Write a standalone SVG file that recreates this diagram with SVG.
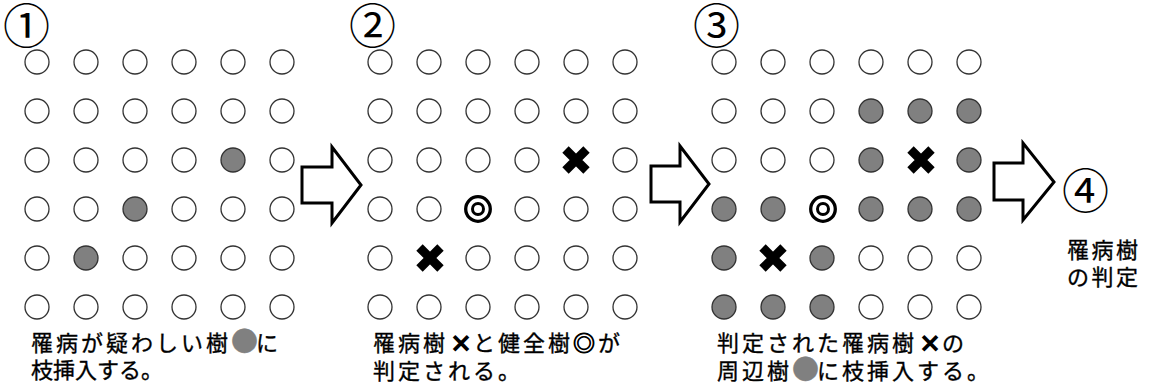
<svg xmlns="http://www.w3.org/2000/svg" xmlns:xlink="http://www.w3.org/1999/xlink" width="1151" height="385" viewBox="0 0 1151 385">
<style>
.o{fill:#fff;stroke:#333;stroke-width:1.3}
.f{fill:#808080;stroke:#333;stroke-width:1.3}
.x{stroke:#000;stroke-width:9;fill:none;stroke-linecap:butt}
.dc{fill:none;stroke:#000}
.arr{fill:#fff;stroke:#000;stroke-width:3;stroke-linejoin:miter}
.num{font-family:"Noto Sans CJK JP","Noto Sans CJK SC",sans-serif;font-size:47px;fill:#000}
.lab{font-family:"Noto Sans CJK JP","Noto Sans CJK SC",sans-serif;font-size:22px;fill:#000;stroke:#000;stroke-width:0.35}
.g{fill:#808080;stroke:#808080;font-size:27px}
.b{font-weight:bold;stroke-width:1.4}
.dm{stroke-width:0.9}
</style>
<defs>
<circle id="o" class="o" r="12"/>
<circle id="f" class="f" r="12"/>
<path id="x" class="x" d="M-10.5,-10.5L10.5,10.5M10.5,-10.5L-10.5,10.5"/>
<g id="dc"><circle class="dc" r="12.3" stroke-width="3.3"/><circle class="dc" r="5.5" stroke-width="3"/></g>
</defs>
<rect width="1151" height="385" fill="#fff"/>

<g id="panel1">
<text class="num" x="3" y="43">①</text>
<g id="grid1">
<use href="#o" x="37" y="62"/><use href="#o" x="86" y="62"/><use href="#o" x="135" y="62"/><use href="#o" x="184" y="62"/><use href="#o" x="233" y="62"/><use href="#o" x="282" y="62"/>
<use href="#o" x="37" y="111"/><use href="#o" x="86" y="111"/><use href="#o" x="135" y="111"/><use href="#o" x="184" y="111"/><use href="#o" x="233" y="111"/><use href="#o" x="282" y="111"/>
<use href="#o" x="37" y="160"/><use href="#o" x="86" y="160"/><use href="#o" x="135" y="160"/><use href="#o" x="184" y="160"/><use href="#f" x="233" y="160"/><use href="#o" x="282" y="160"/>
<use href="#o" x="37" y="209"/><use href="#o" x="86" y="209"/><use href="#f" x="135" y="209"/><use href="#o" x="184" y="209"/><use href="#o" x="233" y="209"/><use href="#o" x="282" y="209"/>
<use href="#o" x="37" y="258"/><use href="#f" x="86" y="258"/><use href="#o" x="135" y="258"/><use href="#o" x="184" y="258"/><use href="#o" x="233" y="258"/><use href="#o" x="282" y="258"/>
<use href="#o" x="37" y="307"/><use href="#o" x="86" y="307"/><use href="#o" x="135" y="307"/><use href="#o" x="184" y="307"/><use href="#o" x="233" y="307"/><use href="#o" x="282" y="307"/>
</g>
<text class="lab" x="31" y="351"><tspan x="31 56 81 106 131 156 181 206 231 256" y="351">罹病が疑わしい樹<tspan class="g">●</tspan>に</tspan></text>
<text class="lab" x="31" y="378">枝挿入する。</text>
</g>

<g id="panel2">
<text class="num" x="349" y="43">②</text>
<g id="grid2">
<use href="#o" x="380" y="62"/><use href="#o" x="429" y="62"/><use href="#o" x="478" y="62"/><use href="#o" x="527" y="62"/><use href="#o" x="576" y="62"/><use href="#o" x="625" y="62"/>
<use href="#o" x="380" y="111"/><use href="#o" x="429" y="111"/><use href="#o" x="478" y="111"/><use href="#o" x="527" y="111"/><use href="#o" x="576" y="111"/><use href="#o" x="625" y="111"/>
<use href="#o" x="380" y="160"/><use href="#o" x="429" y="160"/><use href="#o" x="478" y="160"/><use href="#o" x="527" y="160"/><use href="#x" x="576" y="160"/><use href="#o" x="625" y="160"/>
<use href="#o" x="380" y="209"/><use href="#o" x="429" y="209"/><use href="#dc" x="478" y="209"/><use href="#o" x="527" y="209"/><use href="#o" x="576" y="209"/><use href="#o" x="625" y="209"/>
<use href="#o" x="380" y="258"/><use href="#x" x="430" y="258"/><use href="#o" x="478" y="258"/><use href="#o" x="527" y="258"/><use href="#o" x="576" y="258"/><use href="#o" x="625" y="258"/>
<use href="#o" x="380" y="307"/><use href="#o" x="429" y="307"/><use href="#o" x="478" y="307"/><use href="#o" x="527" y="307"/><use href="#o" x="576" y="307"/><use href="#o" x="625" y="307"/>
</g>
<text class="lab" x="373" y="351"><tspan x="373 398 423 450 473 498 523 548 573 598" y="351">罹病樹<tspan class="b">×</tspan>と健全樹<tspan class="dm">◎</tspan>が</tspan></text>
<text class="lab" x="373" y="379"><tspan x="373 398 423 448 473 498" y="379">判定される。</tspan></text>
</g>

<g id="panel3">
<text class="num" x="693" y="43">③</text>
<g id="grid3">
<use href="#o" x="724" y="62"/><use href="#o" x="773" y="62"/><use href="#o" x="822" y="62"/><use href="#o" x="871" y="62"/><use href="#o" x="920" y="62"/><use href="#o" x="969" y="62"/>
<use href="#o" x="724" y="111"/><use href="#o" x="773" y="111"/><use href="#o" x="822" y="111"/><use href="#f" x="871" y="111"/><use href="#f" x="920" y="111"/><use href="#f" x="969" y="111"/>
<use href="#o" x="724" y="160"/><use href="#o" x="773" y="160"/><use href="#o" x="822" y="160"/><use href="#f" x="871" y="160"/><use href="#x" x="921" y="160"/><use href="#f" x="969" y="160"/>
<use href="#f" x="724" y="209"/><use href="#f" x="773" y="209"/><use href="#dc" x="823" y="209"/><use href="#f" x="871" y="209"/><use href="#f" x="920" y="209"/><use href="#f" x="969" y="209"/>
<use href="#f" x="724" y="258"/><use href="#x" x="773" y="258"/><use href="#f" x="822" y="258"/><use href="#o" x="871" y="258"/><use href="#o" x="920" y="258"/><use href="#o" x="969" y="258"/>
<use href="#f" x="724" y="307"/><use href="#f" x="773" y="307"/><use href="#f" x="822" y="307"/><use href="#o" x="871" y="307"/><use href="#o" x="920" y="307"/><use href="#o" x="969" y="307"/>
</g>
<text class="lab" x="717" y="351"><tspan x="717 742 767 792 817 842 867 892 919 942" y="351">判定された罹病樹<tspan class="b">×</tspan>の</tspan></text>
<text class="lab" x="717" y="379"><tspan x="717 742 767 792 817 842 867 892 917 942 967" y="379">周辺樹<tspan class="g">●</tspan>に枝挿入する。</tspan></text>
</g>

<g id="panel4">
<text class="num" x="1062" y="208">④</text>
<text class="lab" x="1067" y="258"><tspan x="1067 1091.5 1116" y="258">罹病樹</tspan></text>
<text class="lab" x="1067" y="285"><tspan x="1067 1091.5 1116" y="285">の判定</tspan></text>
</g>

<g id="connectors">
<path class="arr" d="M302,167H332V147L361,185L332,223V203H302Z"/>
<path class="arr" d="M651,166H680V146L709,184L680,222V202H651Z"/>
<path class="arr" d="M994,163H1023V143L1054,182L1023,220V200H994Z"/>
</g>
</svg>
